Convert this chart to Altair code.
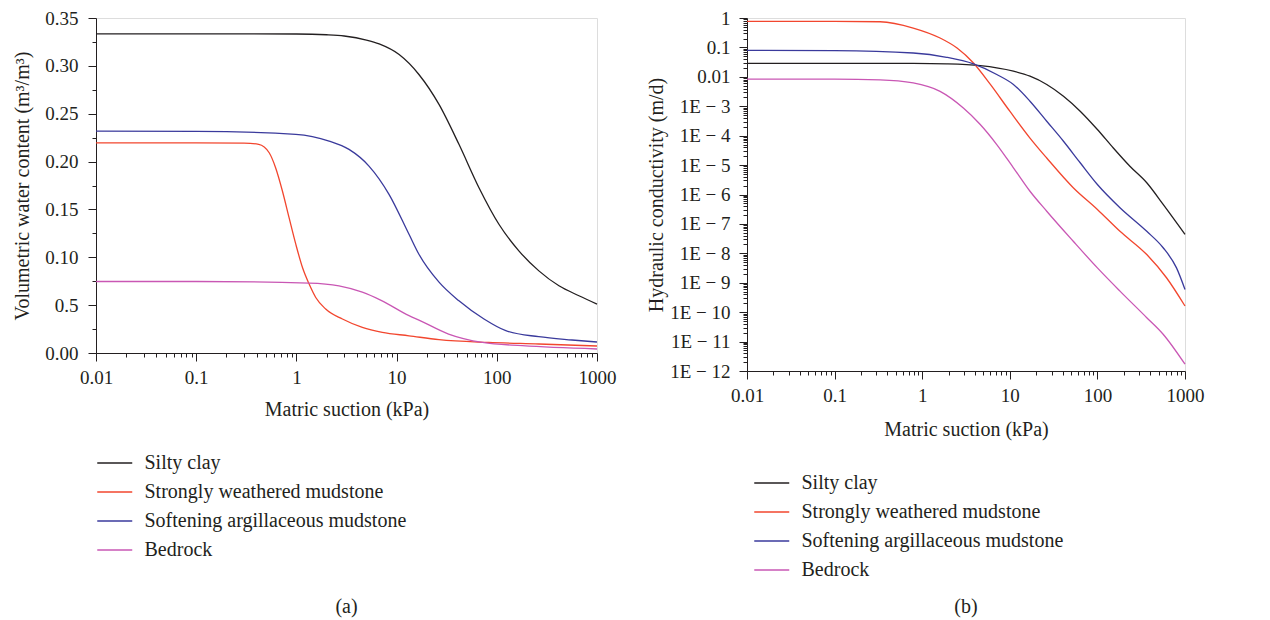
import json
import altair as alt
import pandas as pd

FONT = "Liberation Serif"
INK = "#231f20"

soils = ["Silty clay", "Strongly weathered mudstone",
         "Softening argillaceous mudstone", "Bedrock"]
soil_colors = ["#231f20", "#f2462e", "#3a3a9c", "#c957b4"]

# ---------- (a) Volumetric water content vs matric suction ----------
wc_silty_x = [0.01, 0.1, 1, 2, 3, 5, 6.7, 10.6, 16.7, 26.5, 41.9, 66.4, 105, 166, 263, 417, 660, 1000]
wc_silty_y = [0.3335, 0.3335, 0.3333, 0.3325, 0.3312, 0.327, 0.3229, 0.3118, 0.291, 0.2597,
              0.218, 0.1727, 0.1345, 0.1067, 0.0858, 0.0702, 0.0598, 0.0511]

wc_strong_x = [0.01, 0.1, 0.3, 0.42, 0.535, 0.62, 0.725, 0.845, 0.986, 1.15, 1.34, 1.56, 1.96,
               2.88, 4.55, 7.2, 13.3, 26.5, 83, 262, 1000]
wc_strong_y = [0.2196, 0.2196, 0.2193, 0.218, 0.2092, 0.1936, 0.1693, 0.1414, 0.1137, 0.0893,
               0.072, 0.058, 0.0459, 0.0355, 0.0267, 0.0215, 0.018, 0.0139, 0.011, 0.0094, 0.0073]

wc_soft_x = [0.01, 0.1, 0.986, 2.12, 3.35, 5.3, 8.4, 13.3, 16.7, 26.5, 41.9, 74.5, 123, 262, 563, 1000]
wc_soft_y = [0.2318, 0.2316, 0.2284, 0.2214, 0.2127, 0.1953, 0.1658, 0.124, 0.1032, 0.074,
             0.0545, 0.0355, 0.0233, 0.017, 0.0136, 0.0115]

wc_bed_x = [0.01, 0.1, 1.34, 2.66, 4.55, 7, 13.3, 16.7, 33, 72, 180, 1000]
wc_bed_y = [0.0747, 0.0747, 0.073, 0.0702, 0.0635, 0.055, 0.039, 0.0344, 0.0198, 0.011,
            0.0076, 0.0042]

# ---------- (b) Hydraulic conductivity vs matric suction ----------
k_silty_x = [0.01, 0.1, 0.79, 1.9, 4.6, 11, 17, 26.4, 41, 63.6, 100, 152, 235, 366, 563, 1000]
k_silty_y = [0.0288, 0.0288, 0.0285, 0.0275, 0.024, 0.0155, 0.0105, 0.0055, 0.00219, 6.8e-4,
             1.62e-4, 3.8e-5, 9.1e-6, 2.5e-6, 4.6e-7, 4.4e-8]

k_strong_x = [0.01, 0.1, 0.33, 0.79, 1.6, 2.5, 3.85, 6, 10, 17, 26.4, 53, 100, 181, 366, 615, 1000]
k_strong_y = [0.773, 0.773, 0.746, 0.457, 0.209, 0.0955, 0.0295, 0.0055, 6.8e-4, 8.3e-5,
              1.74e-5, 1.7e-6, 3.1e-7, 5.6e-8, 9.1e-9, 1.48e-9, 1.62e-10]

k_soft_x = [0.01, 0.1, 0.79, 1.9, 3.85, 7.1, 11, 17, 26.4, 41, 63.6, 100, 181, 366, 563, 800, 1000]
k_soft_y = [0.0794, 0.0776, 0.0646, 0.0462, 0.0275, 0.0120, 0.0055, 0.00148, 3.09e-4, 6.46e-5,
            1.2e-5, 2.19e-6, 3.55e-7, 5.6e-8, 1.55e-8, 3.2e-9, 5.9e-10]

k_bed_x = [0.01, 0.1, 0.33, 0.79, 1.6, 2.95, 4.6, 7.1, 11, 17, 26.4, 53, 100, 181, 366, 563, 1000]
k_bed_y = [0.0083, 0.0083, 0.0079, 0.0062, 0.0032, 8.7e-4, 2.4e-4, 5.0e-5, 8.1e-6, 1.29e-6,
           2.7e-7, 2.57e-8, 3.2e-9, 5.2e-10, 6.5e-11, 1.78e-11, 1.7e-12]

# ---------- tick labels ----------
x_major = [0.01, 0.1, 1, 10, 100, 1000]
x_labels = ["0.01", "0.1", "1", "10", "100", "1000"]
wc_major = [0.0, 0.05, 0.1, 0.15, 0.2, 0.25, 0.3, 0.35]
wc_labels = ["0.00", "0.5", "0.10", "0.15", "0.20", "0.25", "0.30", "0.35"]
k_major = [1.0, 0.1, 0.01, 1e-3, 1e-4, 1e-5, 1e-6, 1e-7, 1e-8, 1e-9, 1e-10, 1e-11, 1e-12]
k_labels = ["1", "0.1", "0.01", "1E \u2212 3", "1E \u2212 4", "1E \u2212 5", "1E \u2212 6",
            "1E \u2212 7", "1E \u2212 8", "1E \u2212 9", "1E \u2212 10", "1E \u2212 11", "1E \u2212 12"]

x_all = sorted(x_major + [m * d for d in x_major[:-1] for m in range(2, 10)])
wc_all = [round(i * 0.025, 3) for i in range(15)]
k_all = sorted(k_major + [m * d for d in k_major[1:] for m in range(2, 10)])


def long(series):
    rows = []
    for name, xs, ys in series:
        for i, (x, y) in enumerate(zip(xs, ys)):
            rows.append({"suction": x, "value": y, "soil": name, "order": i})
    return pd.DataFrame(rows)


df_a = long([(soils[0], wc_silty_x, wc_silty_y), (soils[1], wc_strong_x, wc_strong_y),
             (soils[2], wc_soft_x, wc_soft_y), (soils[3], wc_bed_x, wc_bed_y)])
df_b = long([(soils[0], k_silty_x, k_silty_y), (soils[1], k_strong_x, k_strong_y),
             (soils[2], k_soft_x, k_soft_y), (soils[3], k_bed_x, k_bed_y)])


def lab_expr(major, labels):
    m = json.dumps(major)
    l = json.dumps(labels, ensure_ascii=False)
    return f"indexof({m}, datum.value) >= 0 ? {l}[indexof({m}, datum.value)] : ''"


def tick_size(major):
    return {"condition": {"test": f"indexof({json.dumps(major)}, datum.value) >= 0", "value": 8},
            "value": 4}


def axis(title, major, labels, allv, pad, title_pad):
    return alt.Axis(title=title, values=allv, labelExpr=lab_expr(major, labels),
                    tickSize=tick_size(major), labelPadding=pad, titlePadding=title_pad,
                    grid=False, labelFont=FONT, labelFontSize=19, titleFont=FONT,
                    titleFontSize=20, titleFontWeight="normal", labelColor=INK,
                    titleColor=INK, domainColor=INK, tickColor=INK, labelOverlap=False,
                    labelFlush=False)


def legend(lx, ly):
    return alt.Legend(title=None, orient="none", legendX=lx, legendY=ly,
                      symbolType="M-1,0H3", symbolSize=306, symbolStrokeWidth=1.5,
                      labelFont=FONT, labelFontSize=20, labelColor=INK, labelLimit=0,
                      labelOffset=28.5, rowPadding=9)


color_scale = alt.Scale(domain=soils, range=soil_colors)
x_scale = alt.Scale(type="log", domain=[0.01, 1000], nice=False)

chart_a = alt.Chart(df_a).mark_line(strokeWidth=1.3, interpolate="monotone").encode(
    x=alt.X("suction:Q", scale=x_scale,
            axis=axis("Matric suction (kPa)", x_major, x_labels, x_all, 7, 12)),
    y=alt.Y("value:Q", scale=alt.Scale(domain=[0, 0.35], nice=False),
            axis=axis("Volumetric water content (m\u00b3/m\u00b3)", wc_major, wc_labels,
                      wc_all, 10, 12)),
    color=alt.Color("soil:N", scale=color_scale, legend=legend(0, 435)),
    order="order:Q",
).properties(width=501, height=335,
             title=alt.TitleParams("(a)", orient="bottom", anchor="middle", frame="group",
                                   font=FONT, fontSize=20, fontWeight="normal", color=INK,
                                   offset=37))

chart_b = alt.Chart(df_b).mark_line(strokeWidth=1.3, interpolate="monotone").encode(
    x=alt.X("suction:Q", scale=x_scale,
            axis=axis("Matric suction (kPa)", x_major, x_labels, x_all, 7, 14)),
    y=alt.Y("value:Q", scale=alt.Scale(type="log", domain=[1e-12, 1], nice=False),
            axis=axis("Hydraulic conductivity (m/d)", k_major, k_labels, k_all, 9, 3)),
    color=alt.Color("soil:N", scale=color_scale, legend=legend(6, 455)),
    order="order:Q",
).properties(width=438, height=353,
             title=alt.TitleParams("(b)", orient="bottom", anchor="middle", frame="group",
                                   font=FONT, fontSize=20, fontWeight="normal", color=INK,
                                   offset=17))

chart = alt.hconcat(chart_a, chart_b, spacing=29).resolve_scale(
    color="independent", x="independent", y="independent"
).configure_view(stroke=None).configure(
    padding={"left": 12, "top": 8, "right": 5, "bottom": 5}, background="white"
)

chart.save("out.html", embed_options={"renderer": "svg", "actions": False})
